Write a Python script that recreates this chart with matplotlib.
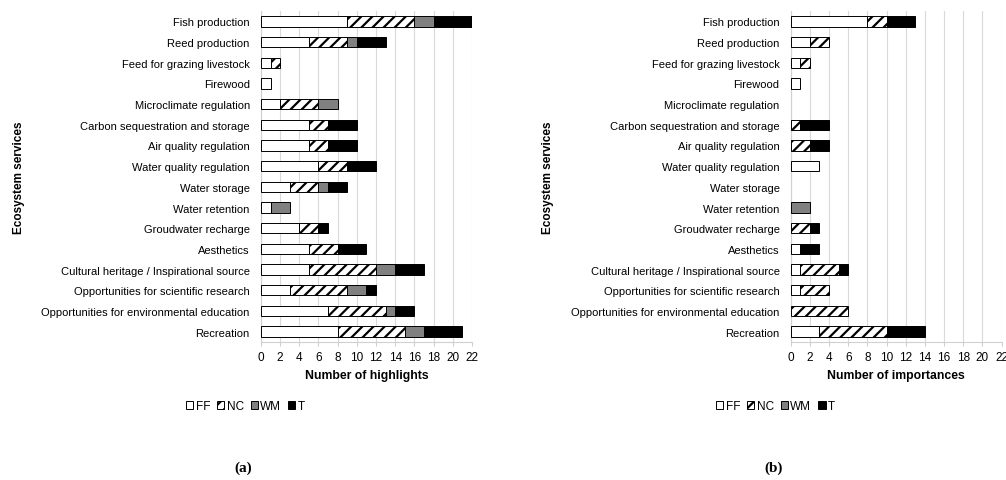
import numpy as np
import matplotlib
matplotlib.use("Agg")
import matplotlib.pyplot as plt
from matplotlib.patches import Patch

plt.rcParams['font.family'] = 'Liberation Sans'
plt.rcParams['hatch.linewidth'] = 1.6

services = ["Fish production", "Reed production", "Feed for grazing livestock", "Firewood",
            "Microclimate regulation", "Carbon sequestration and storage", "Air quality regulation",
            "Water quality regulation", "Water storage", "Water retention", "Groudwater recharge",
            "Aesthetics", "Cultural heritage / Inspirational source",
            "Opportunities for scientific research", "Opportunities for environmental education",
            "Recreation"]

# (a) number of highlights
hl_ff = [9, 5, 1, 1, 2, 5, 5, 6, 3, 1, 4, 5, 5, 3, 7, 8]
hl_nc = [7, 4, 1, 0, 4, 2, 2, 3, 3, 0, 2, 3, 7, 6, 6, 7]
hl_wm = [2, 1, 0, 0, 2, 0, 0, 0, 1, 2, 0, 0, 2, 2, 1, 2]
hl_t = [4, 3, 0, 0, 0, 3, 3, 3, 2, 0, 1, 3, 3, 1, 2, 4]

# (b) number of importances
im_ff = [8, 2, 1, 1, 0, 0, 0, 3, 0, 0, 0, 1, 1, 1, 0, 3]
im_nc = [2, 2, 1, 0, 0, 1, 2, 0, 0, 0, 2, 0, 4, 3, 6, 7]
im_wm = [0, 0, 0, 0, 0, 0, 0, 0, 0, 2, 0, 0, 0, 0, 0, 0]
im_t = [3, 0, 0, 0, 0, 3, 2, 0, 0, 0, 1, 2, 1, 0, 0, 4]

series_names = ["FF", "NC", "WM", "T"]
styles = [dict(color="white", hatch=None), dict(color="white", hatch="///"),
          dict(color="#808080", hatch=None), dict(color="black", hatch=None)]

fig = plt.figure(figsize=(10.06, 4.81), dpi=100)
ax1 = fig.add_axes([0.2594, 0.287, 0.2097, 0.688])
ax2 = fig.add_axes([0.786, 0.287, 0.2097, 0.688])


def draw(ax, data, xlabel, legend_x):
    y = np.arange(len(services))
    left = np.zeros(len(services))
    for vals, st in zip(data, styles):
        vals = np.array(vals, dtype=float)
        m = vals > 0
        ax.barh(y[m], vals[m], left=left[m], height=0.5, color=st["color"], hatch=st["hatch"],
                edgecolor="black", linewidth=0.7, zorder=3)
        left += vals
    ax.set_yticks(y)
    ax.set_yticklabels(services, fontsize=8)
    ax.set_ylim(len(services) - 0.5, -0.5)
    ax.set_xlim(0, 22)
    ax.set_xticks(range(0, 23, 2))
    ax.tick_params(axis="x", labelsize=8.5, length=3, color="#d0d0d0")
    ax.tick_params(axis="y", length=0, pad=8)
    ax.grid(axis="x", color="#d9d9d9", linewidth=0.8, zorder=0)
    for s in ["top", "right"]:
        ax.spines[s].set_visible(False)
    ax.spines["left"].set_color("#d0d0d0")
    ax.spines["bottom"].set_color("#d0d0d0")
    ax.set_xlabel(xlabel, fontsize=8.8, fontweight="bold", labelpad=4)
    ax.set_ylabel("Ecosystem services", fontsize=8.5, fontweight="bold")
    handles = [Patch(facecolor=st["color"], hatch=st["hatch"], edgecolor="black", linewidth=0.7)
               for st in styles]
    fig.legend(handles, series_names, loc="center", bbox_to_anchor=(legend_x, 0.154), ncol=4,
               frameon=False, fontsize=8.5, handlelength=0.6, handleheight=0.6,
               handletextpad=0.2, columnspacing=0.6)


draw(ax1, [hl_ff, hl_nc, hl_wm, hl_t], "Number of highlights", 0.244)
draw(ax2, [im_ff, im_nc, im_wm, im_t], "Number of importances", 0.771)
ax1.yaxis.set_label_coords(-1.12, 0.5, transform=ax1.transAxes)
ax2.yaxis.set_label_coords(-1.12, 0.5, transform=ax2.transAxes)

fig.text(0.242, 0.027, "(a)", fontsize=11, fontweight="bold", family="Liberation Serif",
         ha="center", va="center")
fig.text(0.769, 0.027, "(b)", fontsize=11, fontweight="bold", family="Liberation Serif",
         ha="center", va="center")

fig.savefig("out.png", dpi=100)
